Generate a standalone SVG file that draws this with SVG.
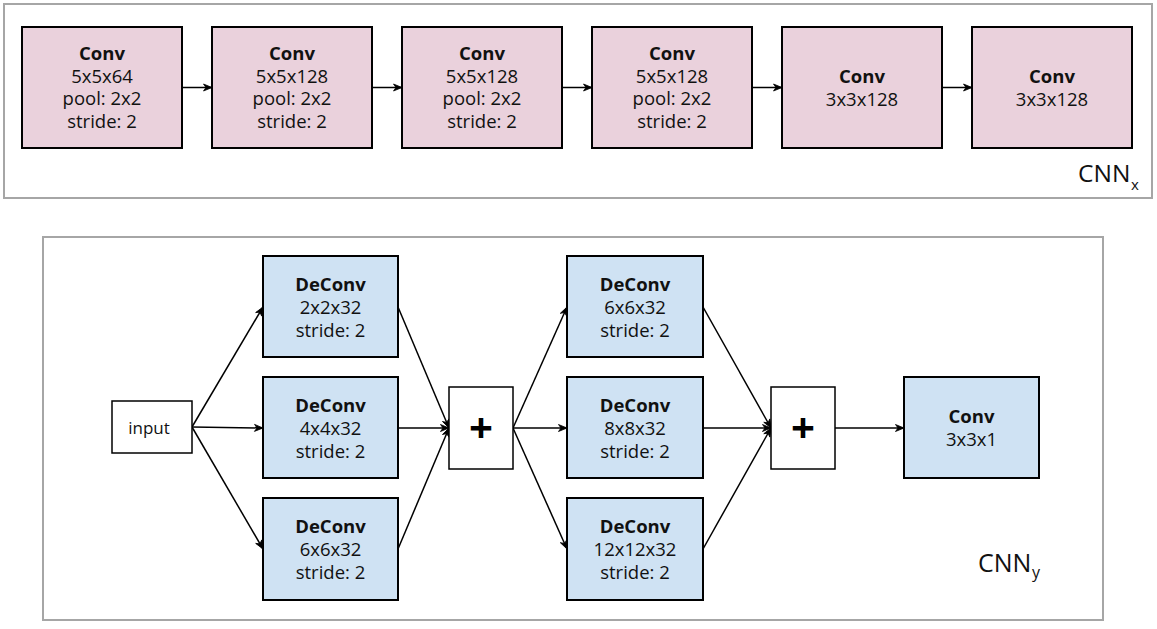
<svg xmlns="http://www.w3.org/2000/svg" width="1157" height="629" viewBox="0 0 1157 629">
<defs>
<style>
.frame{fill:#fff;stroke:#a6a6a6;stroke-width:2}
.pink{fill:#ead1dc;stroke:#000;stroke-width:2}
.blue{fill:#cfe2f3;stroke:#000;stroke-width:2}
.white{fill:#fff;stroke:#000;stroke-width:1.5}
.t{font-family:"Open Sans","DejaVu Sans",sans-serif;font-size:18.5px;fill:#111;text-anchor:middle}
.b{font-weight:bold}
.plus{font-family:"Open Sans","DejaVu Sans",sans-serif;font-size:42px;font-weight:bold;fill:#000;text-anchor:middle}
.lbl{font-family:"Open Sans","DejaVu Sans",sans-serif;fill:#111}
.c line{stroke:#000;stroke-width:1.5;fill:none;marker-end:url(#ah)}
</style>
<marker id="ah" viewBox="0 0 10 10" refX="9.5" refY="5" markerWidth="10" markerHeight="10" markerUnits="userSpaceOnUse" orient="auto">
<path d="M1,1.5 L9.5,5 L1,8.5 L3.5,5 Z" fill="#000" stroke="#000" stroke-width="0.8" stroke-linejoin="round"/>
</marker>
</defs>
<rect width="1157" height="629" fill="#fff"/>
<g id="frame-x"><rect class="frame" x="4" y="4" width="1148" height="194"/>
<text class="lbl" x="1078" y="182" style="font-size:24.5px">CNN</text><text class="lbl" x="1131" y="190" style="font-size:15px">x</text></g>
<g id="frame-y"><rect class="frame" x="43" y="237" width="1060" height="383"/>
<text class="lbl" x="978" y="572" style="font-size:25px">CNN</text><text class="lbl" x="1032" y="578" style="font-size:16px">y</text></g>

<g class="c" id="connectors">
<line x1="183" y1="87.5" x2="212" y2="87.5"/>
<line x1="373" y1="87.5" x2="402" y2="87.5"/>
<line x1="563" y1="87.5" x2="592" y2="87.5"/>
<line x1="753" y1="87.5" x2="782" y2="87.5"/>
<line x1="943" y1="87.5" x2="972" y2="87.5"/>
<line x1="192" y1="427" x2="263" y2="307"/>
<line x1="192" y1="427" x2="263" y2="428"/>
<line x1="192" y1="427" x2="263" y2="549"/>
<line x1="398" y1="307" x2="449" y2="428"/>
<line x1="398" y1="428" x2="449" y2="428"/>
<line x1="398" y1="549" x2="449" y2="428"/>
<line x1="513" y1="428" x2="567" y2="307"/>
<line x1="513" y1="428" x2="567" y2="428"/>
<line x1="513" y1="428" x2="567" y2="549"/>
<line x1="703" y1="307" x2="771" y2="428"/>
<line x1="703" y1="428" x2="771" y2="428"/>
<line x1="703" y1="549" x2="771" y2="428"/>
<line x1="835" y1="428" x2="904" y2="428"/>
</g>

<g id="conv1"><rect class="pink" x="22" y="27" width="160" height="121"/>
<text class="t b" x="102" y="60">Conv</text><text class="t" x="102" y="82.5">5x5x64</text><text class="t" x="102" y="105">pool: 2x2</text><text class="t" x="102" y="128">stride: 2</text></g>
<g id="conv2"><rect class="pink" x="212" y="27" width="160" height="121"/>
<text class="t b" x="292" y="60">Conv</text><text class="t" x="292" y="82.5">5x5x128</text><text class="t" x="292" y="105">pool: 2x2</text><text class="t" x="292" y="128">stride: 2</text></g>
<g id="conv3"><rect class="pink" x="402" y="27" width="160" height="121"/>
<text class="t b" x="482" y="60">Conv</text><text class="t" x="482" y="82.5">5x5x128</text><text class="t" x="482" y="105">pool: 2x2</text><text class="t" x="482" y="128">stride: 2</text></g>
<g id="conv4"><rect class="pink" x="592" y="27" width="160" height="121"/>
<text class="t b" x="672" y="60">Conv</text><text class="t" x="672" y="82.5">5x5x128</text><text class="t" x="672" y="105">pool: 2x2</text><text class="t" x="672" y="128">stride: 2</text></g>
<g id="conv5"><rect class="pink" x="782" y="27" width="160" height="121"/>
<text class="t b" x="862" y="83">Conv</text><text class="t" x="862" y="105.5">3x3x128</text></g>
<g id="conv6"><rect class="pink" x="972" y="27" width="160" height="121"/>
<text class="t b" x="1052" y="83">Conv</text><text class="t" x="1052" y="105.5">3x3x128</text></g>

<g id="input"><rect class="white" x="112" y="401" width="80" height="52"/>
<text class="t" x="149" y="434" style="font-size:17px">input</text></g>

<g id="deconv-a1"><rect class="blue" x="263" y="256" width="135" height="101"/>
<text class="t b" x="330.5" y="290.5">DeConv</text><text class="t" x="330.5" y="313.5">2x2x32</text><text class="t" x="330.5" y="336.5">stride: 2</text></g>
<g id="deconv-a2"><rect class="blue" x="263" y="377" width="135" height="101"/>
<text class="t b" x="330.5" y="411.5">DeConv</text><text class="t" x="330.5" y="434.5">4x4x32</text><text class="t" x="330.5" y="457.5">stride: 2</text></g>
<g id="deconv-a3"><rect class="blue" x="263" y="498" width="135" height="102"/>
<text class="t b" x="330.5" y="532.5">DeConv</text><text class="t" x="330.5" y="555.5">6x6x32</text><text class="t" x="330.5" y="578.5">stride: 2</text></g>

<g id="plus1"><rect class="white" x="449" y="387" width="64" height="82"/>
<text class="plus" x="481" y="443">+</text></g>

<g id="deconv-b1"><rect class="blue" x="567" y="256" width="136" height="101"/>
<text class="t b" x="635" y="290.5">DeConv</text><text class="t" x="635" y="313.5">6x6x32</text><text class="t" x="635" y="336.5">stride: 2</text></g>
<g id="deconv-b2"><rect class="blue" x="567" y="377" width="136" height="101"/>
<text class="t b" x="635" y="411.5">DeConv</text><text class="t" x="635" y="434.5">8x8x32</text><text class="t" x="635" y="457.5">stride: 2</text></g>
<g id="deconv-b3"><rect class="blue" x="567" y="498" width="136" height="102"/>
<text class="t b" x="635" y="532.5">DeConv</text><text class="t" x="635" y="555.5">12x12x32</text><text class="t" x="635" y="578.5">stride: 2</text></g>

<g id="plus2"><rect class="white" x="771" y="387" width="64" height="82"/>
<text class="plus" x="803" y="443">+</text></g>

<g id="conv-out"><rect class="blue" x="904" y="377" width="135" height="101"/>
<text class="t b" x="971.5" y="422.5">Conv</text><text class="t" x="971.5" y="445.5">3x3x1</text></g>
</svg>
